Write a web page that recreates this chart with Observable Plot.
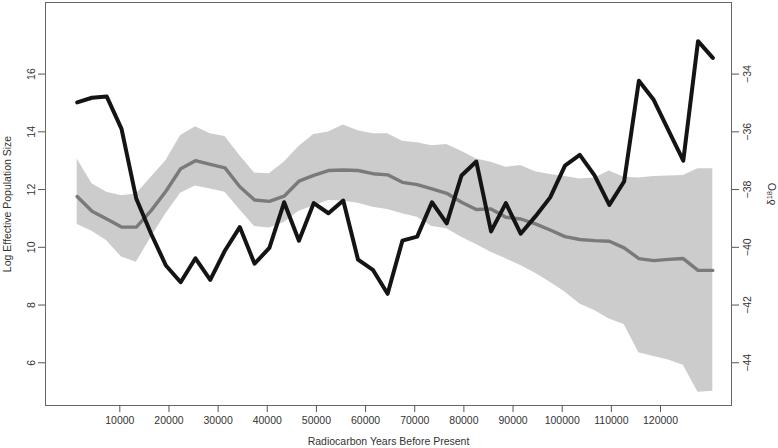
<!DOCTYPE html>
<html>
<head>
<meta charset="utf-8">
<script src="https://cdn.jsdelivr.net/npm/d3@7"></script>
<script src="https://cdn.jsdelivr.net/npm/@observablehq/plot@0.6"></script>
<style>
  html, body { margin: 0; padding: 0; background: #fff; overflow: hidden; }
  svg { display: block; }
</style>
</head>
<body>
<div id="chart"></div>
<script>
// Radiocarbon years before present (sample positions)
const years = [1330, 4340, 7350, 10350, 13360, 16370, 19380, 22380, 25390, 28400,
  31400, 34410, 37420, 40430, 43430, 46440, 49450, 52450, 55460, 58470,
  61480, 64480, 67490, 70500, 73500, 76510, 79520, 82530, 85530, 88540,
  91550, 94550, 97560, 100570, 103580, 106580, 109590, 112600, 115600, 118610,
  121620, 124630, 127630, 130640];

// δ18O record (right axis)
const d18O = [-34.98, -34.82, -34.78, -35.90, -38.32, -39.53, -40.63, -41.21, -40.38, -41.13,
  -40.11, -39.30, -40.57, -40.02, -38.44, -39.77, -38.47, -38.82, -38.38, -40.43,
  -40.78, -41.61, -39.77, -39.63, -38.44, -39.17, -37.51, -37.03, -39.45, -38.47,
  -39.53, -38.93, -38.27, -37.17, -36.80, -37.51, -38.53, -37.72, -34.23, -34.89,
  -35.95, -37.00, -32.86, -33.44];

// Log effective population size: median and credible band (left axis)
const popMedian = [11.76, 11.25, 10.98, 10.70, 10.70, 11.27, 11.94, 12.72, 13.00, 12.87,
  12.75, 12.10, 11.64, 11.59, 11.77, 12.29, 12.49, 12.66, 12.68, 12.66,
  12.55, 12.51, 12.25, 12.17, 12.02, 11.87, 11.56, 11.31, 11.33, 11.04,
  10.98, 10.81, 10.60, 10.37, 10.27, 10.23, 10.21, 9.98, 9.61, 9.54,
  9.58, 9.61, 9.20, 9.20];
const popUpper = [13.06, 12.20, 11.91, 11.79, 11.85, 12.43, 13.00, 13.87, 14.18, 13.93,
  13.84, 13.18, 12.57, 12.55, 12.95, 13.49, 13.91, 13.99, 14.24, 14.04,
  13.93, 13.93, 13.67, 13.62, 13.52, 13.56, 13.33, 13.06, 12.95, 12.77,
  12.83, 12.62, 12.52, 12.45, 12.37, 12.40, 12.64, 12.43, 12.40, 12.45,
  12.47, 12.49, 12.72, 12.72];
const popLower = [10.79, 10.56, 10.23, 9.66, 9.48, 10.35, 11.16, 11.87, 12.12, 12.02,
  11.91, 11.30, 10.72, 10.67, 10.86, 11.25, 11.43, 11.62, 11.60, 11.53,
  11.39, 11.31, 11.16, 11.04, 10.72, 10.64, 10.35, 10.10, 9.83, 9.60,
  9.37, 9.10, 8.79, 8.45, 8.04, 7.81, 7.52, 7.33, 6.35, 6.22,
  6.10, 5.91, 4.98, 5.01];

// Tick labels
const xTicks = [10000, 20000, 30000, 40000, 50000, 60000, 70000, 80000, 90000, 100000, 110000, 120000];
const leftTicks = [6, 8, 10, 12, 14, 16];
const rightTicks = [-44, -42, -40, -38, -36, -34];
const OFFSET = 50; // right axis value = left axis value − 50

const xLabel = "Radiocarbon Years Before Present";
const yLabel = "Log Effective Population Size";
const y2Label = "δ18O";

const rows = years.map((year, i) => ({
  year, d18O: d18O[i], median: popMedian[i], lower: popLower[i], upper: popUpper[i]
}));

const fmt = d3.format("d");

const chart = Plot.plot({
  width: 778,
  height: 448,
  marginLeft: 45,
  marginRight: 47,
  marginTop: 2,
  marginBottom: 43,
  style: { fontFamily: "'Liberation Sans', Arial, Helvetica, sans-serif", fontSize: "10.5px", background: "#fff", color: "#333" },
  x: { domain: [-5116, 134443] },
  y: { domain: [4.52, 18.48] },
  marks: [
    Plot.areaY(rows, { x: "year", y1: "lower", y2: "upper", fill: "#cccccc", curve: "linear" }),
    Plot.line(rows, { x: "year", y: "median", stroke: "#7a7a7a", strokeWidth: 3.4 }),
    Plot.line(rows, { x: "year", y: d => d.d18O + OFFSET, stroke: "#141414", strokeWidth: 4 }),
    Plot.frame({ stroke: "#666", strokeWidth: 1 }),
    Plot.axisX(xTicks, { tickSize: 7, tickPadding: 4, tickFormat: fmt, label: null, stroke: "#555", fill: "#333" }),
    Plot.axisY(leftTicks, { anchor: "left", tickSize: 7, tickPadding: 4, tickRotate: -90, textAnchor: "middle", lineAnchor: "bottom", tickFormat: fmt, label: null, stroke: "#555", fill: "#333" }),
    Plot.axisY(rightTicks.map(d => d + OFFSET), { anchor: "right", tickSize: 7, tickPadding: 5, tickRotate: -90, textAnchor: "middle", lineAnchor: "top", tickFormat: d => fmt(d - OFFSET), label: null, stroke: "#555", fill: "#333" }),
    Plot.text([xLabel], { frameAnchor: "bottom", dy: 36, text: d => d, lineAnchor: "middle", fill: "#333" }),
    Plot.text([yLabel], { frameAnchor: "left", dx: -38, rotate: -90, text: d => d, textAnchor: "middle", lineAnchor: "middle", fill: "#333" }),
    Plot.text([y2Label], { frameAnchor: "right", dx: 40, dy: -10, rotate: -90, text: d => d, textAnchor: "middle", lineAnchor: "middle", fill: "#333" })
  ]
});

// render the "18" of δ18O as a superscript
d3.select(chart).selectAll("text")
  .filter(function () { return this.textContent === y2Label; })
  .each(function () {
    const t = d3.select(this);
    t.text(null);
    t.append("tspan").text("δ");
    t.append("tspan").attr("dy", "-0.45em").attr("font-size", "7.5px").text("18");
    t.append("tspan").attr("dy", "0.45em").text("O");
  });

document.getElementById("chart").appendChild(chart);
</script>
</body>
</html>
